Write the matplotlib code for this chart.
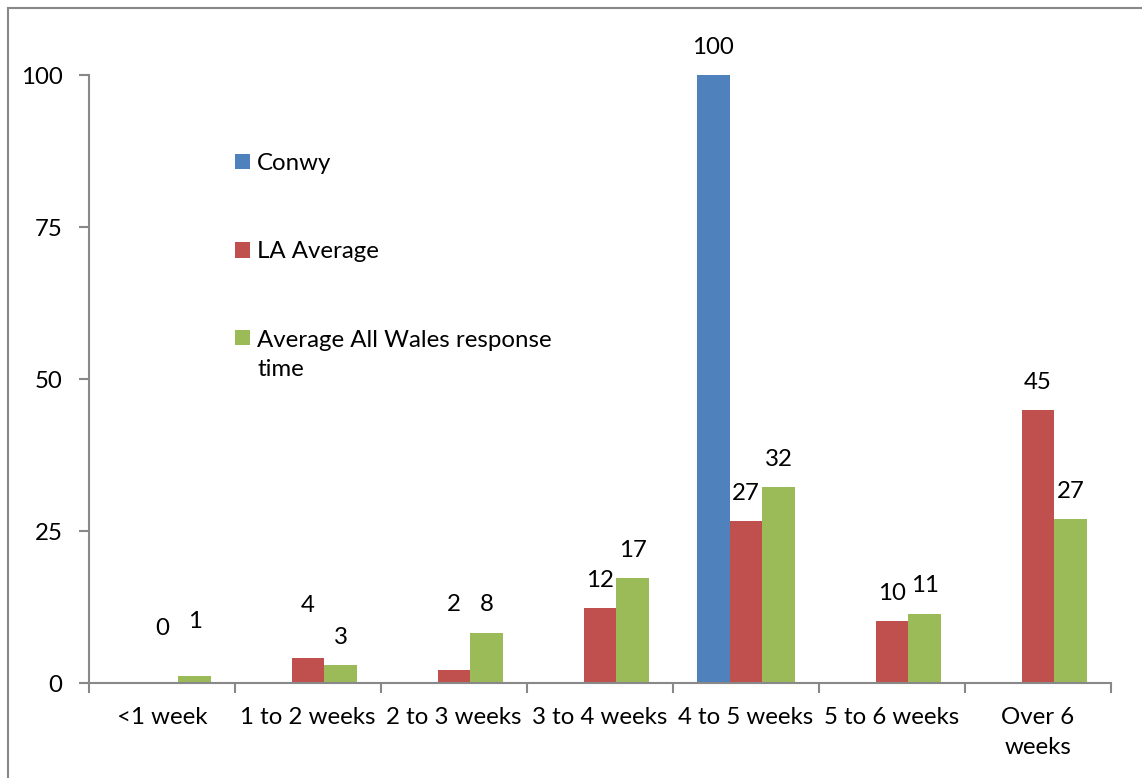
import numpy as np
import matplotlib
matplotlib.use("Agg")
import matplotlib.pyplot as plt
from matplotlib.patches import Rectangle

categories = ["<1 week", "1 to 2 weeks", "2 to 3 weeks", "3 to 4 weeks",
              "4 to 5 weeks", "5 to 6 weeks", "Over 6\nweeks"]
conwy = [np.nan, np.nan, np.nan, np.nan, 100, np.nan, np.nan]
la_average = [0, 4.1, 2.1, 12.3, 26.6, 10.2, 44.9]
all_wales = [1.1, 2.9, 8.3, 17.2, 32.2, 11.4, 26.9]
series_names = ["Conwy", "LA Average", "Average All Wales response\ntime"]
y_ticks = [0, 25, 50, 75, 100]

colors = ["#4F81BD", "#C0504D", "#9BBB59"]
# extra vertical label offsets (points) for crowded small bars
la_label_extra = [19.5, 18, 27, 0, 0, 0, 0]
wales_label_extra = [19.5, 0, 0, 0, 0, 0, 0]

plt.rcParams["font.family"] = ["Lato", "DejaVu Sans"]
FS = 17.3

fig = plt.figure(figsize=(11.42, 7.78), dpi=100)
ax = fig.add_axes([89/1142, 1-683/778, (1111-89)/1142, (683-75)/778])

x = np.arange(len(categories))
w = 0.225
series = [conwy, la_average, all_wales]
extras = [[0]*7, la_label_extra, wales_label_extra]
for i, (vals, col, name) in enumerate(zip(series, colors, series_names)):
    bars = ax.bar(x + (i-1)*w, vals, width=w, color=col, label=name, zorder=2)
    for b, v, ex in zip(bars, vals, extras[i]):
        if np.isnan(v):
            continue
        ax.annotate(f"{v:.0f}", (b.get_x()+b.get_width()/2, v),
                    xytext=(0, 20+ex), textcoords="offset points",
                    ha="center", va="center", fontsize=FS, color="black")

ax.set_xlim(-0.5, len(categories)-0.5)
ax.set_ylim(0, 100)
ax.set_yticks(y_ticks)
ax.set_yticklabels([str(t) for t in y_ticks], fontsize=FS)
ax.set_xticks(np.arange(len(categories)+1)-0.5, minor=False)
ax.set_xticklabels([""]*(len(categories)+1))
ax.set_xticks(x, minor=True)
ax.set_xticklabels(categories, minor=True, fontsize=FS, linespacing=1.5)
ax.tick_params(axis="x", which="minor", length=0, pad=17.5)
ax.tick_params(axis="x", which="major", length=7, width=1.5, color="#888888", direction="out")
ax.tick_params(axis="y", length=7, width=1.5, color="#888888", direction="out", pad=12)
for s in ["top", "right"]:
    ax.spines[s].set_visible(False)
for s in ["left", "bottom"]:
    ax.spines[s].set_color("#888888")
    ax.spines[s].set_linewidth(1.5)

leg = ax.legend(loc="upper left", bbox_to_anchor=(235/1142, 1-153/778),
                bbox_transform=fig.transFigure, frameon=False, fontsize=FS,
                handlelength=0.62, handleheight=0.62, handletextpad=0.3,
                labelspacing=2.8, borderpad=0, borderaxespad=0)
for t in leg.get_texts():
    t.set_linespacing(1.5)
# align the handle of the wrapped label with its first line
rows = leg._legend_handle_box.get_children()[0].get_children()
rows[-1].align = "top"

fig.patches.append(Rectangle((8/1142, -0.1), 1.2, 1.1-8/778, transform=fig.transFigure,
                             fill=False, edgecolor="#888888", linewidth=1.5))

fig.savefig("out.png", dpi=100)
